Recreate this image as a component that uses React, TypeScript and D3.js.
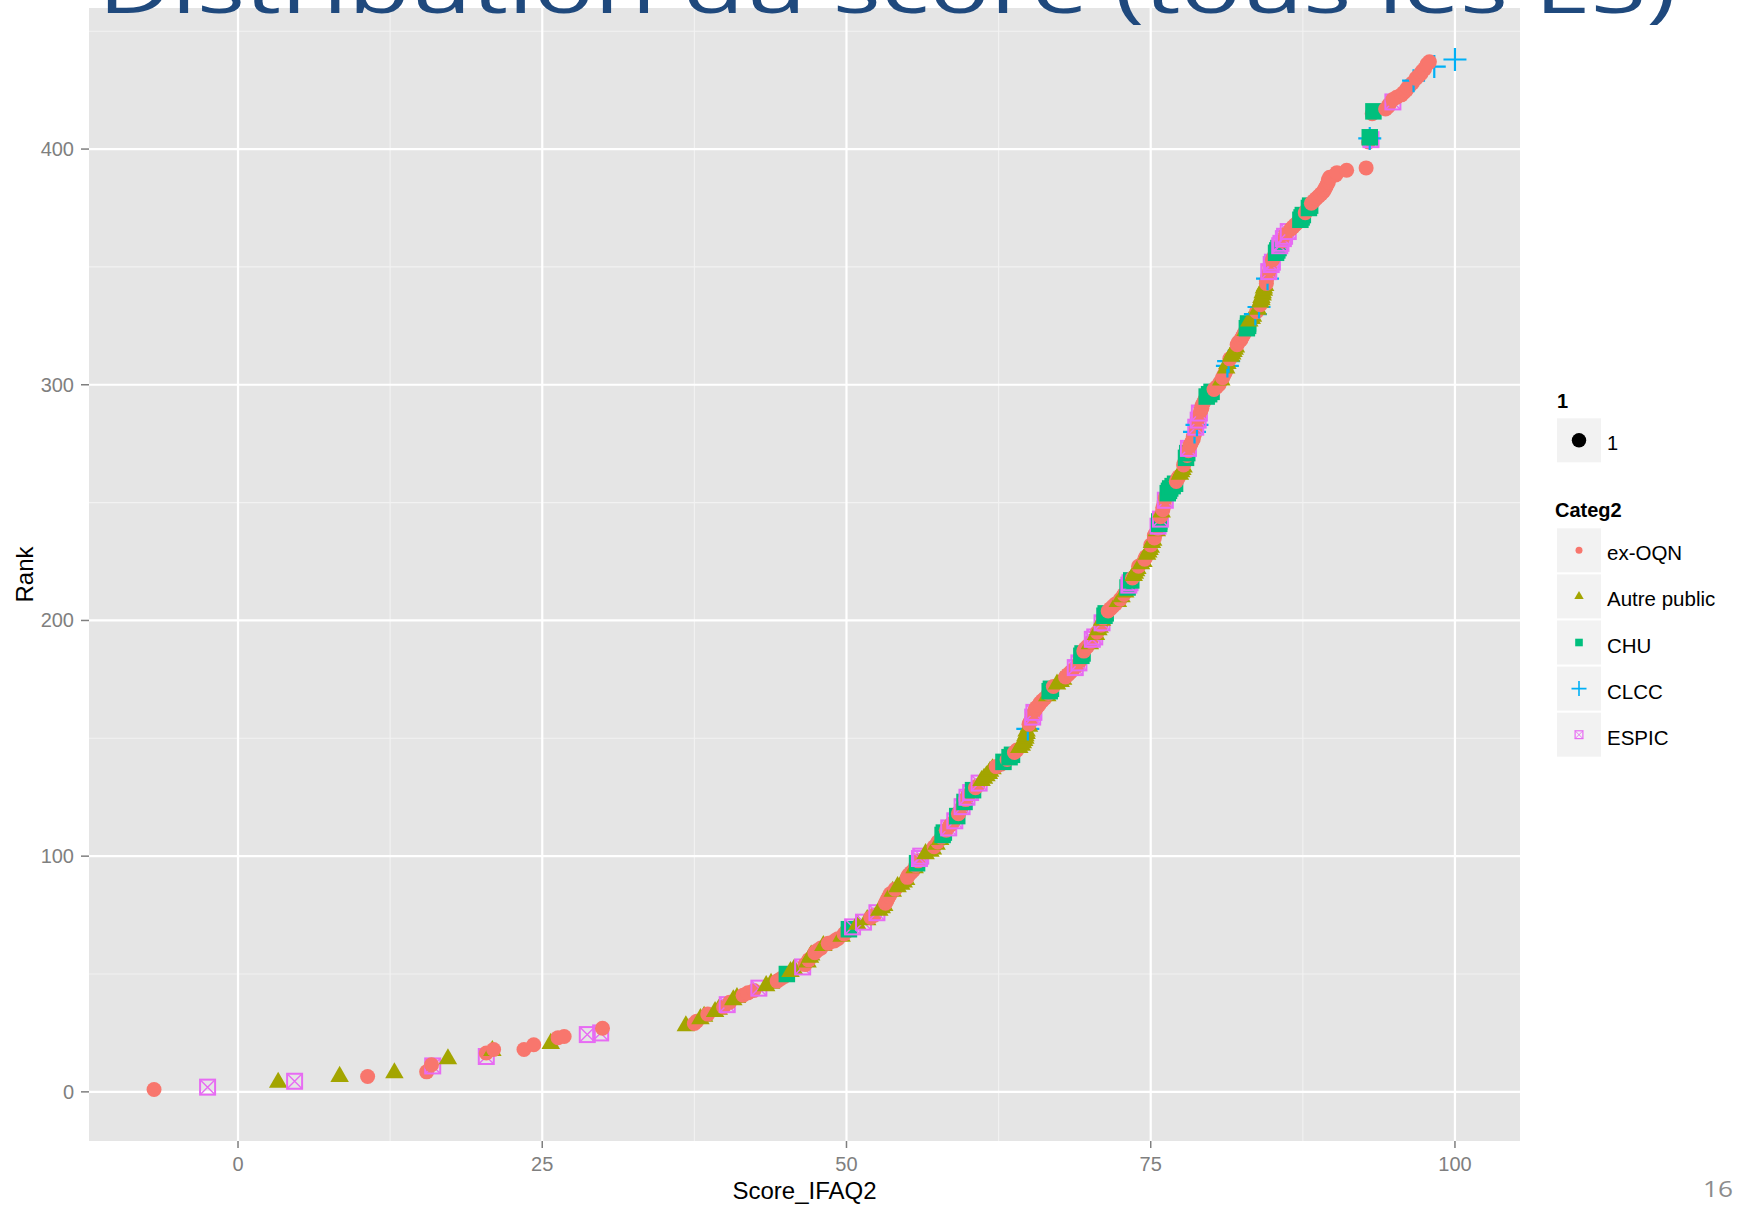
import React from "react";
import * as d3 from "d3";

// ---------- DATA ----------
const categories = ["ex-OQN", "Autre public", "CHU", "CLCC", "ESPIC"];
const catCodes = ["O", "A", "H", "C", "E"];
const catColors = ["#F8766D", "#A3A500", "#00BF7D", "#00B0F6", "#E76BF3"];
const xTicks = [0, 25, 50, 75, 100];
const yTicks = [0, 100, 200, 300, 400];
const xMinor = [12.5, 37.5, 62.5, 87.5];
const yMinor = [50, 150, 250, 350, 450];

// lower, sparse part of the curve
const lowScores = [-6.9, -2.5, 3.3, 4.65, 8.35, 10.65, 12.85, 15.5, 16.0, 15.9, 17.25, 20.4, 20.4, 20.9, 21.0, 23.5, 24.3, 25.7, 26.3, 26.8, 28.7, 29.8, 29.95];
const lowRanks = [1, 2, 4, 4.5, 6.5, 6.5, 8, 8.5, 11, 11.5, 14, 15, 16.5, 17.5, 18, 18, 20, 20.5, 23, 23.5, 24.3, 25, 27];
const lowCats = "OEAEAOAOEOAEOAOOOAOOEEO".split("");

// dense part: consecutive ranks starting at 28
const midStartRank = 28;
const midScores = [
  36.8, 37.5, 37.7, 38.0, 38.3, 38.6, 39.2, 39.5, 39.9, 40.2,
  40.4, 40.7, 41.0, 41.5, 41.9, 42.4, 42.8, 43.4, 43.8, 44.3,
  44.6, 44.9, 45.1, 45.4, 45.7, 46.4, 46.6, 46.8, 46.9, 47.0,
  47.1, 47.4, 47.6, 47.9, 48.1, 48.5, 49.0, 49.3, 49.6, 49.8,
  50.0, 50.2, 50.5, 50.9, 51.4, 51.7, 52.0, 52.3, 52.5, 52.7,
  52.9, 53.1, 53.2, 53.3, 53.4, 53.5, 53.6, 53.8, 54.0, 54.2,
  54.5, 54.7, 54.9, 55.0, 55.1, 55.3, 55.5, 55.6, 55.7, 55.8,
  55.9, 56.0, 56.1, 56.5, 56.9, 57.1, 57.2, 57.4, 57.5, 57.7,
  57.8, 57.9, 58.0, 58.2, 58.4, 58.5, 58.7, 58.9, 59.0, 59.1,
  59.2, 59.3, 59.4, 59.5, 59.6, 59.7, 59.8, 59.9, 60.0, 60.2,
  60.4, 60.6, 60.8, 60.9, 61.1, 61.3, 61.5, 61.7, 61.8, 62.0,
  62.3, 62.7, 62.9, 63.2, 63.4, 63.6, 63.8, 64.0, 64.2, 64.4,
  64.5, 64.6, 64.7, 64.7, 64.8, 64.8, 64.9, 65.0, 65.0, 65.1,
  65.2, 65.3, 65.3, 65.4, 65.5, 65.6, 65.8, 65.9, 66.1, 66.3,
  66.5, 66.6, 66.7, 66.8, 67.0, 67.3, 67.6, 67.8, 68.0, 68.2,
  68.4, 68.6, 68.8, 69.0, 69.1, 69.2, 69.3, 69.3, 69.4, 69.5,
  69.6, 69.8, 70.0, 70.1, 70.2, 70.4, 70.5, 70.6, 70.7, 70.8,
  70.9, 71.0, 71.0, 71.1, 71.2, 71.3, 71.5, 71.7, 71.9, 72.1,
  72.3, 72.5, 72.6, 72.8, 72.9, 73.0, 73.1, 73.2, 73.3, 73.4,
  73.5, 73.6, 73.7, 73.8, 73.9, 74.0, 74.2, 74.4, 74.5, 74.6,
  74.7, 74.8, 74.9, 75.0, 75.0, 75.1, 75.2, 75.3, 75.3, 75.4,
  75.5, 75.6, 75.6, 75.7, 75.7, 75.8, 75.8, 75.9, 75.9, 76.0,
  76.0, 76.1, 76.1, 76.2, 76.2, 76.3, 76.4, 76.5, 76.6, 76.8,
  77.0, 77.1, 77.2, 77.3, 77.4, 77.5, 77.6, 77.7, 77.7, 77.8,
  77.9, 77.9, 78.0, 78.0, 78.1, 78.1, 78.2, 78.3, 78.4, 78.5,
  78.5, 78.6, 78.6, 78.7, 78.7, 78.8, 78.8, 78.9, 78.9, 79.0,
  79.0, 79.1, 79.2, 79.2, 79.3, 79.4, 79.5, 79.6, 79.8, 80.0,
  80.2, 80.4, 80.6, 80.7, 80.8, 80.9, 81.0, 81.1, 81.2, 81.2,
  81.3, 81.3, 81.4, 81.5, 81.6, 81.7, 81.8, 81.9, 82.0, 82.1,
  82.2, 82.4, 82.5, 82.6, 82.7, 82.8, 82.9, 83.0, 83.0, 83.1,
  83.3, 83.4, 83.6, 83.7, 83.8, 83.9, 84.0, 84.0, 84.1, 84.1,
  84.2, 84.2, 84.3, 84.3, 84.4, 84.5, 84.5, 84.6, 84.6, 84.7,
  84.7, 84.8, 84.8, 84.9, 85.0, 85.0, 85.1, 85.2, 85.3, 85.4,
  85.5, 85.6, 85.7, 85.8, 85.9, 86.0, 86.1, 86.3, 86.5, 86.7,
  86.9, 87.1, 87.3, 87.4, 87.5, 87.7, 87.8, 88.0, 88.1, 88.2,
  88.4, 88.6, 88.8, 89.0, 89.2, 89.3, 89.4, 89.5, 89.6, 89.6,
  89.7, 90.2, 90.3, 91.1, 92.7,
];
const midCats = (
  "AOOAAOAAOE" + "OAAOOOEAAO" + "OOHAAEOAOA" + "AOOOAOOOAO" +
  "OHEAEAOOEA" + "AAOOOOOAOA" + "AAAOOOOAOH" + "OEEAAAOAOA" +
  "OHHOEOOEOH" + "OOOEOHOEOE" + "HOOEAAAAAA" + "OOHOHHOOAA" +
  "AAAAAACAOO" + "OEOEOOOOOO" + "AOHHOAAAOO" + "OOEOEOOHHO" +
  "OOAOEEAOAA" + "OEAOHHOOOO" + "AOAOAAHEEH" + "OAAAAOAAOO" +
  "AAAAOAAOOO" + "AOEHHEOOAO" + "OOOEOOHHHH" + "HOOOAAAAOO" +
  "OHOHOEOOOO" + "OOCOECOEOO" + "EOOOOOOHHH" + "OOOOAOOOOA" +
  "CACOAAAAAO" + "OOOOOAHHHA" + "AACOACOAAA" + "AAAAAOOCOO" +
  "EOOEEOOOHH" + "HEEOEEOEOO" + "OOHHHOOHHO" + "OOOOOOOOOO" +
  "OOOOO"
).split("");

// top part of the curve
const topScores = [92.9, 93.1, 93.0, 93.0, 93.2, 93.3, 94.3, 94.5, 94.6, 94.9, 94.9, 95.2, 95.6, 95.8, 96.0, 96.1, 96.3, 96.5, 96.6, 96.8, 97.0, 97.2, 97.3, 97.5, 98.3, 97.7, 97.9, 100];
const topRanks = [403, 404, 404.5, 405, 415, 416, 417, 418, 419, 420, 421, 422, 423, 424, 425, 426, 427, 428, 429, 430, 431, 432, 433, 434, 435, 436, 437, 438];
const topCats = "OECHOHOOOEOOOOOOOOCOOOOOCOOC".split("");

// ---------- LAYOUT ----------
const W = 1740;
const H = 1206;
const panel = { left: 89, right: 1520, top: 8, bottom: 1141 };
const FONT = "'Liberation Sans', Arial, Helvetica, sans-serif";

type Pt = { score: number; rank: number; cat: string };

const points: Pt[] = [
  ...lowScores.map((s, i) => ({ score: s, rank: lowRanks[i], cat: lowCats[i] })),
  ...midScores.map((s, i) => ({ score: s, rank: midStartRank + i, cat: midCats[i] })),
  ...topScores.map((s, i) => ({ score: s, rank: topRanks[i], cat: topCats[i] })),
];

function expand(ext: [number, number]): [number, number] {
  const pad = (ext[1] - ext[0]) * 0.05;
  return [ext[0] - pad, ext[1] + pad];
}

const xScale = d3
  .scaleLinear()
  .domain(expand(d3.extent(points, (d) => d.score) as [number, number]))
  .range([panel.left, panel.right]);
const yScale = d3
  .scaleLinear()
  .domain(expand(d3.extent(points, (d) => d.rank) as [number, number]))
  .range([panel.bottom, panel.top]);

const colorOf = (code: string) => catColors[catCodes.indexOf(code)];

type Sizes = { r: number; tri: number; sq: number; plus: number; plusW: number; box: number; boxW: number; xW: number };
const plotSizes: Sizes = { r: 7.5, tri: 18.5, sq: 16.5, plus: 11.5, plusW: 2.2, box: 15, boxW: 2, xW: 1.4 };
const legendSizes: Sizes = { r: 3.5, tri: 9.4, sq: 7.6, plus: 7.5, plusW: 1.6, box: 7.8, boxW: 1.2, xW: 0.9 };

function Mark({ code, x, y, s }: { code: string; x: number; y: number; s: Sizes }) {
  const c = colorOf(code);
  if (code === "O") return <circle cx={x} cy={y} r={s.r} fill={c} />;
  if (code === "A") {
    const a = s.tri / 2;
    const h = (s.tri * Math.sqrt(3)) / 2;
    return <path d={`M${x},${y - (2 * h) / 3}L${x + a},${y + h / 3}L${x - a},${y + h / 3}Z`} fill={c} />;
  }
  if (code === "H") return <rect x={x - s.sq / 2} y={y - s.sq / 2} width={s.sq} height={s.sq} fill={c} />;
  if (code === "C")
    return (
      <path
        d={`M${x - s.plus},${y}H${x + s.plus}M${x},${y - s.plus}V${y + s.plus}`}
        stroke={c}
        strokeWidth={s.plusW}
        fill="none"
      />
    );
  const b = s.box / 2;
  return (
    <g stroke={c} fill="none">
      <rect x={x - b} y={y - b} width={s.box} height={s.box} strokeWidth={s.boxW} />
      <path d={`M${x - b},${y - b}L${x + b},${y + b}M${x + b},${y - b}L${x - b},${y + b}`} strokeWidth={s.xW} />
    </g>
  );
}

export default function App() {
  const tickColor = "#7F7F7F";
  const keyX = 1557;
  const keySize = 44;
  const keyTop = 528.3;
  const keyStep = 46.1;
  return (
    <div style={{ position: "absolute", left: 0, top: 0 }}>
      <svg width={W} height={H} viewBox={`0 0 ${W} ${H}`} style={{ display: "block", background: "#fff" }}>
        {/* panel */}
        <rect
          x={panel.left}
          y={panel.top}
          width={panel.right - panel.left}
          height={panel.bottom - panel.top}
          fill="#E5E5E5"
        />
        {xMinor.map((v) => (
          <line key={"xm" + v} x1={xScale(v)} x2={xScale(v)} y1={panel.top} y2={panel.bottom} stroke="#F2F2F2" strokeWidth={1.1} />
        ))}
        {yMinor.map((v) => (
          <line key={"ym" + v} x1={panel.left} x2={panel.right} y1={yScale(v)} y2={yScale(v)} stroke="#F2F2F2" strokeWidth={1.1} />
        ))}
        {xTicks.map((v) => (
          <line key={"xg" + v} x1={xScale(v)} x2={xScale(v)} y1={panel.top} y2={panel.bottom} stroke="#FFFFFF" strokeWidth={2.2} />
        ))}
        {yTicks.map((v) => (
          <line key={"yg" + v} x1={panel.left} x2={panel.right} y1={yScale(v)} y2={yScale(v)} stroke="#FFFFFF" strokeWidth={2.2} />
        ))}

        {/* points */}
        {points.map((p, i) => (
          <Mark key={i} code={p.cat} x={xScale(p.score)} y={yScale(p.rank)} s={plotSizes} />
        ))}

        {/* axes */}
        {xTicks.map((v) => (
          <g key={"xt" + v}>
            <line x1={xScale(v)} x2={xScale(v)} y1={panel.bottom} y2={panel.bottom + 7} stroke={tickColor} strokeWidth={1.5} />
            <text x={xScale(v)} y={1171} textAnchor="middle" fontFamily={FONT} fontSize={20} fill={tickColor}>
              {v}
            </text>
          </g>
        ))}
        {yTicks.map((v) => (
          <g key={"yt" + v}>
            <line x1={panel.left - 8} x2={panel.left} y1={yScale(v)} y2={yScale(v)} stroke={tickColor} strokeWidth={1.5} />
            <text x={74} y={yScale(v) + 7} textAnchor="end" fontFamily={FONT} fontSize={20} fill={tickColor}>
              {v}
            </text>
          </g>
        ))}
        <text x={(panel.left + panel.right) / 2} y={1199} textAnchor="middle" fontFamily={FONT} fontSize={24} fill="#000">
          Score_IFAQ2
        </text>
        <text
          transform={`translate(33,${(panel.top + panel.bottom) / 2}) rotate(-90)`}
          textAnchor="middle"
          fontFamily={FONT}
          fontSize={24}
          fill="#000"
        >
          Rank
        </text>

        {/* legend: size */}
        <text x={keyX} y={408} fontFamily={FONT} fontSize={20} fontWeight="bold" fill="#000">
          1
        </text>
        <rect x={keyX} y={418.3} width={keySize} height={keySize} fill="#F2F2F2" />
        <circle cx={keyX + keySize / 2} cy={418.3 + keySize / 2} r={7.2} fill="#000" />
        <text x={1607} y={450} fontFamily={FONT} fontSize={20} fill="#000">
          1
        </text>

        {/* legend: Categ2 */}
        <text x={1555} y={517} fontFamily={FONT} fontSize={20} fontWeight="bold" fill="#000">
          Categ2
        </text>
        {categories.map((name, i) => {
          const top = keyTop + i * keyStep;
          const cy = top + keySize / 2;
          return (
            <g key={name}>
              <rect x={keyX} y={top} width={keySize} height={keySize} fill="#F2F2F2" />
              <Mark code={catCodes[i]} x={keyX + keySize / 2} y={cy} s={legendSizes} />
              <text x={1607} y={cy + 10} fontFamily={FONT} fontSize={20.5} fill="#000">
                {name}
              </text>
            </g>
          );
        })}

        {/* slide title (cut at the top) and page number */}
        <text
          x={98}
          y={13}
          fontFamily="'Open Sans', 'Noto Sans', sans-serif"
          fontSize={74}
          fill="#1F497D"
          textLength={1578}
          lengthAdjust="spacingAndGlyphs"
        >
          Distribution du score (tous les ES)
        </text>
        <text
          x={1703}
          y={1197}
          fontFamily="'Open Sans', 'Noto Sans', sans-serif"
          fontSize={22}
          fill="#8C8C8C"
          textLength={30}
          lengthAdjust="spacingAndGlyphs"
        >
          16
        </text>
      </svg>
    </div>
  );
}
